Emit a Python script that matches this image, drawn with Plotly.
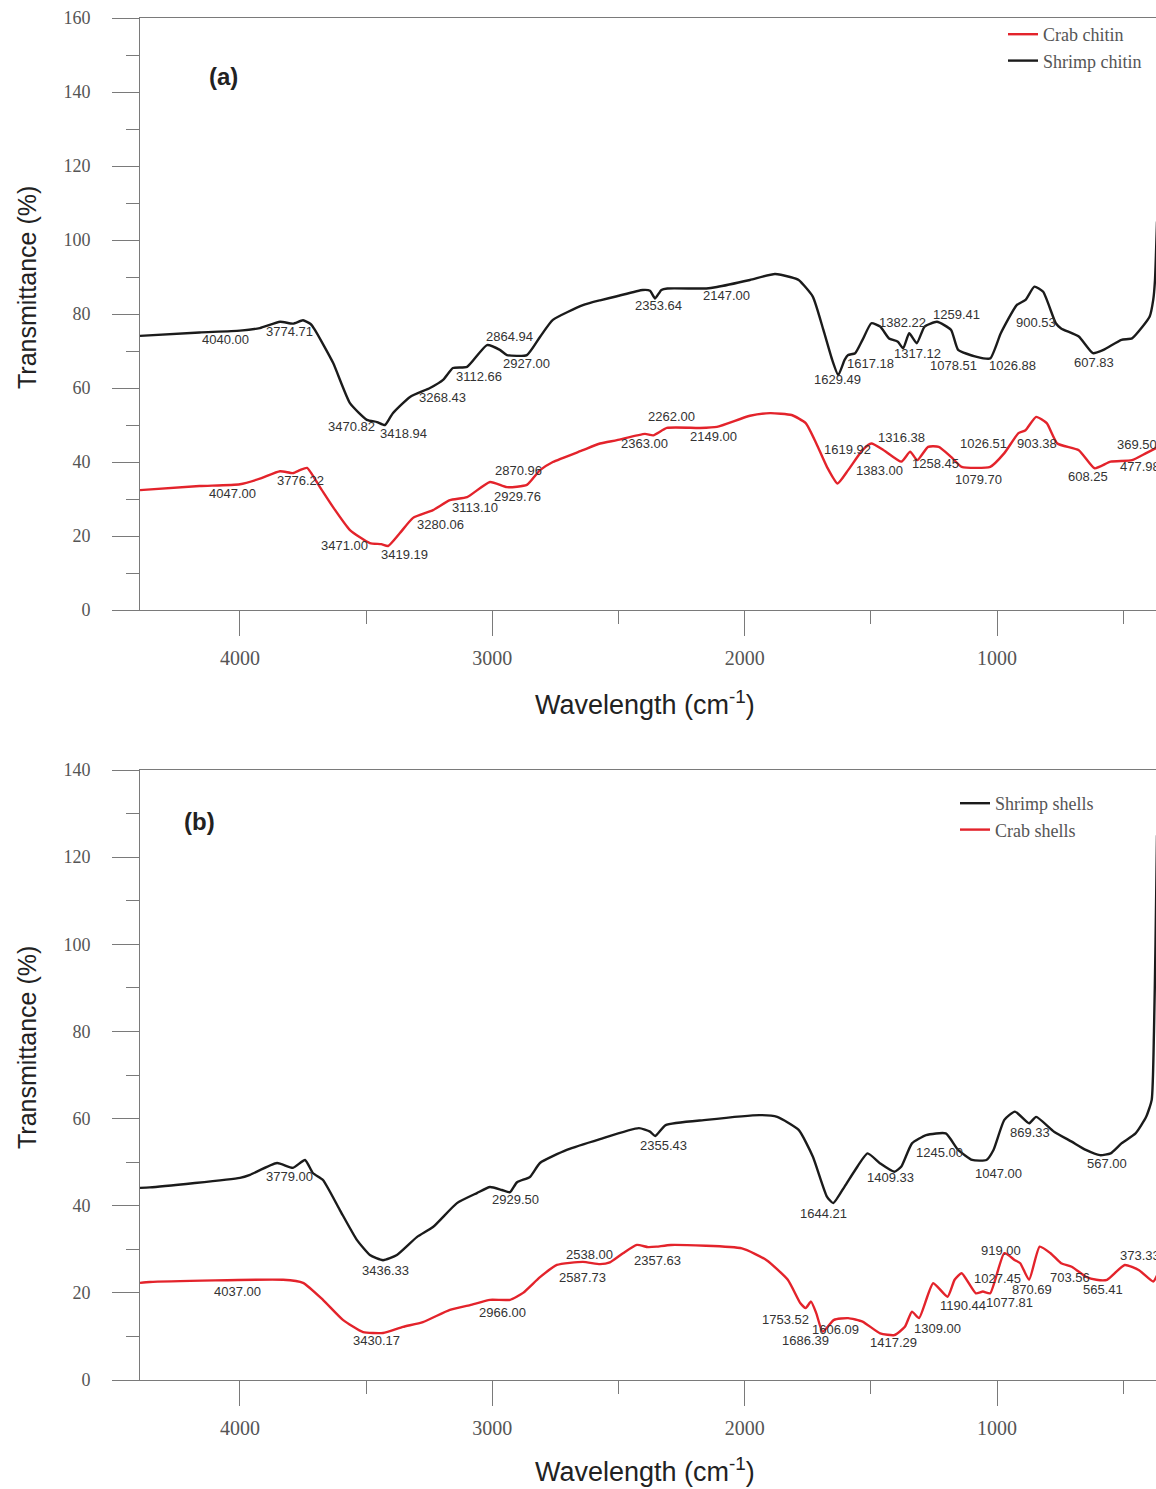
import plotly.graph_objects as go

# ---------------- data ----------------
# Panel (a)
shrimp_chitin_x = [4396, 4160, 4000, 3921, 3841, 3790, 3750, 3720, 3703, 3631, 3564, 3497, 3457, 3425, 3394,
                   3326, 3247, 3195, 3156, 3100, 3021, 2970, 2942, 2863, 2811, 2760, 2641, 2573, 2506, 2404,
                   2375, 2355, 2330, 2306, 2152, 2110, 1979, 1880, 1820, 1786, 1730, 1688, 1653, 1629, 1604,
                   1590, 1562, 1533, 1498, 1463, 1428, 1393, 1372, 1348, 1318, 1287, 1238, 1182, 1154, 1084,
                   1027, 985, 922, 887, 852, 817, 767, 746, 676, 620, 578, 507, 465, 423, 395, 381, 374, 366]
shrimp_chitin_y = [74.1, 75.0, 75.5, 76.2, 77.9, 77.4, 78.3, 77.3, 75.7, 66.8, 55.9, 51.4, 50.8, 50.0, 53.2,
                   57.6, 60.0, 62.2, 65.4, 65.7, 71.6, 70.3, 68.9, 68.9, 73.8, 78.4, 82.4, 83.7, 84.8, 86.5,
                   86.3, 84.2, 86.5, 86.9, 86.9, 87.3, 89.2, 90.8, 90.0, 89.2, 84.7, 75.7, 67.6, 63.5, 67.6,
                   68.9, 69.4, 73.0, 77.5, 76.6, 73.4, 72.5, 70.7, 74.8, 72.1, 76.6, 77.9, 75.7, 70.3, 68.5,
                   68.0, 74.8, 82.4, 83.8, 87.4, 86.0, 77.5, 76.1, 73.9, 69.4, 70.3, 73.0, 73.4, 76.6, 79.3,
                   83.8, 89.2, 105.0]

crab_chitin_x = [4396, 4160, 4000, 3921, 3841, 3790, 3762, 3734, 3683, 3631, 3564, 3485, 3440, 3413, 3366,
                 3314, 3235, 3168, 3100, 3009, 2942, 2863, 2811, 2760, 2641, 2573, 2506, 2395, 2362, 2308,
                 2177, 2110, 1979, 1899, 1814, 1758, 1716, 1674, 1632, 1590, 1533, 1498, 1449, 1379, 1344,
                 1316, 1273, 1231, 1182, 1140, 1027, 971, 915, 887, 845, 803, 761, 676, 613, 550, 465, 409, 366]
crab_chitin_y = [32.4, 33.5, 34.0, 35.5, 37.5, 37.0, 37.8, 38.4, 33.2, 27.8, 21.6, 18.1, 17.8, 17.3, 20.8,
                 24.9, 27.0, 29.7, 30.5, 34.6, 33.2, 33.8, 37.8, 40.0, 43.2, 45.0, 45.9, 47.6, 47.2, 49.2,
                 49.2, 49.5, 52.5, 53.2, 52.7, 50.5, 45.0, 38.7, 34.2, 37.8, 43.2, 45.0, 43.2, 40.1, 42.8,
                 40.5, 44.1, 44.1, 41.4, 38.7, 38.7, 42.4, 47.8, 48.6, 52.2, 50.5, 45.0, 43.2, 38.3, 40.1,
                 40.5, 42.4, 43.9]

# Panel (b)
shrimp_shells_x = [4396, 4357, 4000, 3960, 3853, 3790, 3742, 3711, 3671, 3604, 3536, 3485, 3433, 3378, 3299,
                   3235, 3140, 3061, 3009, 2962, 2930, 2902, 2851, 2811, 2705, 2573, 2419, 2375, 2355, 2313,
                   2152, 1941, 1871, 1786, 1730, 1674, 1649, 1604, 1562, 1513, 1463, 1407, 1379, 1337, 1281,
                   1203, 1154, 1098, 1042, 1014, 971, 929, 873, 845, 774, 704, 648, 592, 550, 507,
                   451, 409, 387, 378, 372, 366]
shrimp_shells_y = [44.1, 44.2, 46.4, 47.1, 49.8, 48.7, 50.5, 47.5, 45.9, 39.0, 32.1, 28.7, 27.5, 28.7, 32.8,
                   35.1, 40.6, 42.9, 44.3, 43.6, 43.1, 45.4, 46.6, 49.8, 52.8, 55.3, 57.8, 57.0, 56.0, 58.5,
                   59.7, 60.8, 60.4, 57.4, 51.3, 42.1, 40.6, 44.4, 48.2, 52.0, 49.7, 47.8, 49.0, 54.3, 56.2,
                   56.6, 52.8, 50.5, 50.5, 52.8, 59.7, 61.6, 58.9, 60.4, 57.0, 54.7, 52.8, 51.6, 52.0, 54.3,
                   56.6, 60.4, 64.3, 80.0, 100.0, 125.0]

crab_shells_x = [4396, 4357, 3829, 3750, 3671, 3592, 3512, 3433, 3354, 3275, 3168, 3088, 3009, 2930, 2878,
                 2811, 2744, 2641, 2573, 2534, 2482, 2427, 2383, 2349, 2292, 2011, 1913, 1829, 1779, 1758,
                 1737, 1716, 1691, 1646, 1590, 1533, 1463, 1407, 1365, 1337, 1309, 1253, 1196, 1168, 1140,
                 1084, 1056, 1027, 971, 929, 908, 873, 831, 788, 746, 704, 648, 606, 564, 494, 437, 381, 366]
crab_shells_y = [22.3, 22.5, 23.0, 22.3, 18.4, 13.8, 11.0, 10.8, 12.2, 13.3, 16.1, 17.2, 18.4, 18.4, 20.0,
                 23.6, 26.4, 27.1, 26.6, 27.0, 29.1, 31.0, 30.5, 30.6, 31.0, 30.2, 27.5, 23.0, 17.6, 16.5,
                 18.0, 15.3, 11.1, 13.8, 14.2, 13.4, 10.7, 10.3, 12.2, 15.7, 14.2, 22.2, 19.1, 23.0, 24.5,
                 19.9, 20.3, 19.9, 29.1, 27.5, 26.8, 23.0, 30.6, 29.1, 26.8, 26.0, 23.7, 23.0, 23.0, 26.4,
                 25.2, 22.6, 24.0]

# Peak labels (text, where the label sits)
a_label_text = ["4040.00", "3774.71", "3470.82", "3418.94", "3268.43", "3112.66", "2864.94", "2927.00",
                "2353.64", "2147.00", "1382.22", "1259.41", "900.53", "1617.18", "1317.12", "1629.49",
                "1078.51", "1026.88", "607.83",
                "4047.00", "3776.22", "3471.00", "3419.19", "3280.06", "3113.10", "2870.96", "2929.76",
                "2262.00", "2363.00", "2149.00", "1619.92", "1316.38", "1383.00", "1258.45", "1026.51",
                "903.38", "1079.70", "608.25"]
a_label_x = [4059, 3802, 3556, 3350, 3199, 3053, 2930, 2863, 2340, 2070, 1373, 1159, 845, 1503, 1317, 1634,
             1174, 940, 616,
             4028, 3762, 3584, 3346, 3207, 3069, 2898, 2902, 2288, 2395, 2125, 1591, 1377, 1464, 1242, 1052,
             842, 1075, 640]
a_label_y = [73.0, 75.4, 49.5, 47.8, 57.3, 63.2, 73.8, 66.5, 82.4, 84.9, 77.8, 80.0, 77.8, 66.5, 69.2, 62.2,
             66.2, 66.2, 67.0,
             31.6, 34.9, 17.3, 15.1, 23.0, 27.6, 37.8, 30.8, 52.2, 45.1, 46.8, 43.5, 46.5, 37.8, 39.5, 44.9,
             44.9, 35.4, 36.2]
a_edge_text = ["369.50", "477.98"]
a_edge_x = [532, 520]
a_edge_y = [44.6, 38.9]

b_label_text = ["3779.00", "2929.50", "2355.43", "3436.33", "1644.21", "1409.33", "1245.00", "1047.00",
                "869.33", "567.00",
                "4037.00", "3430.17", "2966.00", "2538.00", "2587.73", "2357.63", "1753.52", "1686.39",
                "1606.09", "1417.29", "1309.00", "1190.44", "1077.81", "1027.45", "919.00", "870.69",
                "703.56", "565.41"]
b_label_x = [3802, 2910, 2320, 3425, 1689, 1424, 1226, 996, 869, 564,
             4008, 3457, 2958, 2613, 2641, 2347, 1840, 1757, 1640, 1412, 1234, 1135, 952, 1000, 984, 861,
             711, 580]
b_label_y = [46.6, 41.5, 53.9, 25.2, 38.3, 46.4, 52.3, 47.5, 56.9, 49.6,
             20.2, 9.0, 15.4, 28.7, 23.6, 27.5, 13.8, 9.0, 11.6, 8.5, 11.9, 17.0, 17.7, 23.4, 29.8, 20.7,
             23.6, 20.7]
b_edge_text = ["373.33"]
b_edge_x = [520]
b_edge_y = [28.5]

x_range = [4396, 370]
x_ticks = [4000, 3000, 2000, 1000]
x_tick_text = ["4000", "3000", "2000", "1000"]

# ---------------- figure ----------------
W, H = 1156, 1489
L = 140
BLACK = "#1b1b1b"
RED = "#e3232b"
AXC = "#7a7a7a"

fig = go.Figure()
fig.add_trace(go.Scatter(x=crab_chitin_x, y=crab_chitin_y, name="Crab chitin", mode="lines",
                         line=dict(color=RED, width=2.4, shape="spline", smoothing=0.5),
                         xaxis="x", yaxis="y", legend="legend"))
fig.add_trace(go.Scatter(x=shrimp_chitin_x, y=shrimp_chitin_y, name="Shrimp chitin", mode="lines",
                         line=dict(color=BLACK, width=2.4, shape="spline", smoothing=0.5),
                         xaxis="x", yaxis="y", legend="legend"))
fig.add_trace(go.Scatter(x=shrimp_shells_x, y=shrimp_shells_y, name="Shrimp shells", mode="lines",
                         line=dict(color=BLACK, width=2.4, shape="spline", smoothing=0.5),
                         xaxis="x2", yaxis="y2", legend="legend2"))
fig.add_trace(go.Scatter(x=crab_shells_x, y=crab_shells_y, name="Crab shells", mode="lines",
                         line=dict(color=RED, width=2.4, shape="spline", smoothing=0.5),
                         xaxis="x2", yaxis="y2", legend="legend2"))


def px_x(p):
    return (p - L) / (W - L)


def px_y(p):
    return 1 - p / H


xaxis_common = dict(range=x_range, tickmode="array", tickvals=x_ticks, ticktext=x_tick_text,
                    ticks="outside", ticklen=25, tickwidth=1, tickcolor=AXC,
                    showline=True, linecolor=AXC, linewidth=1, mirror=True,
                    showgrid=False, zeroline=False, automargin=False,
                    ticklabelstandoff=5,
                    tickfont=dict(family="Liberation Serif", size=20, color="#555"),
                    minor=dict(tickvals=[4500, 3500, 2500, 1500, 500], ticks="outside", ticklen=13,
                               tickcolor=AXC, tickwidth=1, showgrid=False))
yaxis_common = dict(ticks="outside", ticklen=27, tickwidth=1, tickcolor=AXC, dtick=20, tick0=0,
                    showline=True, linecolor=AXC, linewidth=1,
                    showgrid=False, zeroline=False, automargin=False,
                    ticklabelstandoff=18,
                    tickfont=dict(family="Liberation Serif", size=18, color="#555"),
                    minor=dict(dtick=10, ticks="outside", ticklen=13, tickcolor=AXC, tickwidth=1,
                               showgrid=False))

leg_font = dict(family="Liberation Serif", size=18, color="#555")
layout = dict(
    width=W, height=H,
    margin=dict(l=L, r=0, t=0, b=0),
    paper_bgcolor="white", plot_bgcolor="white",
    xaxis=dict(xaxis_common, domain=[0, 1], anchor="y"),
    yaxis=dict(yaxis_common, domain=[px_y(610), px_y(18)], anchor="x", range=[0, 160]),
    xaxis2=dict(xaxis_common, domain=[0, 1], anchor="y2"),
    yaxis2=dict(yaxis_common, domain=[px_y(1380), px_y(770)], anchor="x2", range=[0, 140]),
    legend=dict(x=px_x(1003), y=px_y(16), xanchor="left", yanchor="top", font=leg_font,
                bgcolor="rgba(0,0,0,0)", borderwidth=0, tracegroupgap=0),
    legend2=dict(x=px_x(955), y=px_y(785), xanchor="left", yanchor="top", font=leg_font,
                 bgcolor="rgba(0,0,0,0)", borderwidth=0, tracegroupgap=0),
    showlegend=True,
)
fig.update_layout(layout)

ann = []
lab_font = dict(family="Liberation Sans", size=13, color="#333")
for t, x, y in zip(a_label_text, a_label_x, a_label_y):
    ann.append(dict(text=t, x=x, y=y, xref="x", yref="y", showarrow=False, font=lab_font))
for t, x, y in zip(a_edge_text, a_edge_x, a_edge_y):
    ann.append(dict(text=t, x=x, y=y, xref="x", yref="y", showarrow=False, xanchor="left", font=lab_font))
for t, x, y in zip(b_label_text, b_label_x, b_label_y):
    ann.append(dict(text=t, x=x, y=y, xref="x2", yref="y2", showarrow=False, font=lab_font))
for t, x, y in zip(b_edge_text, b_edge_x, b_edge_y):
    ann.append(dict(text=t, x=x, y=y, xref="x2", yref="y2", showarrow=False, xanchor="left", font=lab_font))

title_font = dict(family="Liberation Sans", size=25, color="#222")
xt_font = dict(family="Liberation Sans", size=27, color="#222")
for yc in (288, 1048):
    ann.append(dict(text="Transmittance (%)", x=px_x(27), y=px_y(yc), xref="paper", yref="paper",
                    textangle=-90, showarrow=False, font=title_font, xanchor="center", yanchor="middle"))
for yc in (703, 1470):
    ann.append(dict(text="Wavelength (cm<sup>-1</sup>)", x=px_x(645), y=px_y(yc), xref="paper",
                    yref="paper", showarrow=False, font=xt_font, xanchor="center", yanchor="middle"))
ann.append(dict(text="<b>(a)</b>", x=px_x(223), y=px_y(77), xref="paper", yref="paper", showarrow=False,
                xanchor="center", yanchor="middle",
                font=dict(family="Liberation Sans", size=24, color="#222")))
ann.append(dict(text="<b>(b)</b>", x=px_x(199), y=px_y(822), xref="paper", yref="paper", showarrow=False,
                xanchor="center", yanchor="middle",
                font=dict(family="Liberation Sans", size=24, color="#222")))
fig.update_layout(annotations=ann)

fig.write_html("out.html")
